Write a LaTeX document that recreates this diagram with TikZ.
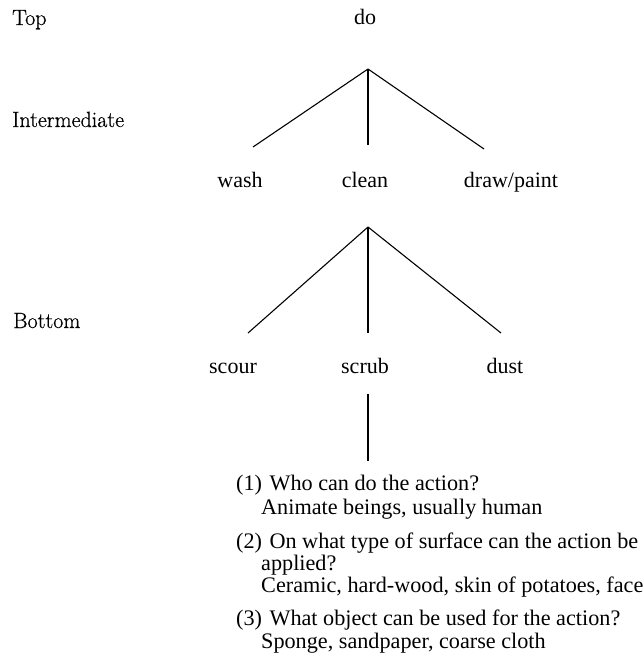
\documentclass[tikz,border=0pt]{standalone}
\usepackage{fontspec}
\setmainfont{Liberation Serif}
\newfontfamily\lmfont[FakeBold=0.6]{Latin Modern Roman}
\begin{document}
\begin{tikzpicture}[x=1bp,y=-1bp,
  word/.style={inner sep=0pt,anchor=base,font=\fontsize{22bp}{24bp}\selectfont},
  level/.style={inner sep=0pt,anchor=base west,font=\lmfont\fontsize{22bp}{24bp}\selectfont},
  line/.style={inner sep=0pt,anchor=base west,font=\fontsize{22.2bp}{24bp}\selectfont},
  edge/.style={line width=1.1bp,black}]
\useasboundingbox (0,0) rectangle (643,669);
% level labels
\node[level] (top) at (12,25) {Top};
\node[level] (inter) at (12,127) {Intermediate};
\node[level] (bot) at (13,328) {Bottom};
% words
\node[word] (do) at (365,25) {do};
\node[word] (wash) at (240,187) {wash};
\node[word] (clean) at (365,187) {clean};
\node[word] (draw) at (511,187) {draw/paint};
\node[word] (scour) at (233,373) {scour};
\node[word] (scrub) at (365,373) {scrub};
\node[word] (dust) at (505,373) {dust};
% connector end points
\coordinate (doJ) at (368,69);
\coordinate (washT) at (253,147);
\coordinate (cleanT) at (368,145);
\coordinate (drawT) at (484,149);
\coordinate (cleanJ) at (368,227);
\coordinate (scourT) at (248,333);
\coordinate (scrubT) at (368,333);
\coordinate (dustT) at (501,333);
\coordinate (scrubJ) at (368,394);
\coordinate (infoT) at (368,461);
\draw[edge] (doJ) -- (washT);
\draw[edge] (doJ) -- (cleanT);
\draw[edge] (doJ) -- (drawT);
\draw[edge] (cleanJ) -- (scourT);
\draw[edge] (cleanJ) -- (scrubT);
\draw[edge] (cleanJ) -- (dustT);
\draw[edge] (scrubJ) -- (infoT);
% feature text
\node[line] (q1) at (236,490) {(1)\hspace{7.5bp}Who can do the action?};
\node[line] (a1) at (261,514) {Animate beings, usually human};
\node[line] (q2) at (236,548) {(2)\hspace{7.5bp}On what type of surface can the action be};
\node[line] (q2b) at (261,570) {applied?};
\node[line] (a2) at (261,592) {Ceramic, hard-wood, skin of potatoes, face};
\node[line] (q3) at (236,625) {(3)\hspace{7.5bp}What object can be used for the action?};
\node[line] (a3) at (261,648) {Sponge, sandpaper, coarse cloth};
\end{tikzpicture}
\end{document}
